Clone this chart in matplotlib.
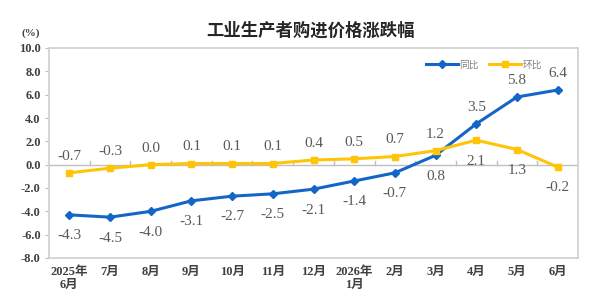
import matplotlib.pyplot as plt

months = ['2025年\n6月', '7月', '8月', '9月', '10月', '11月', '12月',
          '2026年\n1月', '2月', '3月', '4月', '5月', '6月']
yoy = [-4.3, -4.5, -4.0, -3.1, -2.7, -2.5, -2.1, -1.4, -0.7, 0.8, 3.5, 5.8, 6.4]
mom = [-0.7, -0.3, 0.0, 0.1, 0.1, 0.1, 0.4, 0.5, 0.7, 1.2, 2.1, 1.3, -0.2]
# label placement: 1 = above the point, -1 = below
yoy_pos = [-1, -1, -1, -1, -1, -1, -1, -1, -1, -1, 1, 1, 1]
mom_pos = [1, 1, 1, 1, 1, 1, 1, 1, 1, 1, -1, -1, -1]

blue = '#1466C6'
yellow = '#FFC407'
serif = ['Liberation Serif', 'Noto Sans CJK SC']

fig = plt.figure(figsize=(6, 3.08), dpi=100)
ax = fig.add_axes([49 / 600, 1 - 258 / 308, 529 / 600, 210 / 308])

x = list(range(len(months)))
ax.plot(x, yoy, color=blue, lw=2.2, marker='D', ms=4, label='同比', zorder=3)
ax.plot(x, mom, color=yellow, lw=2.2, marker='s', ms=5, label='环比', zorder=3)


def offset(p):
    return 12 if p > 0 else -15


for i in x:
    ax.annotate(f'{yoy[i]:.1f}', (i, yoy[i]), xytext=(0, offset(yoy_pos[i])),
                textcoords='offset points', ha='center', va='center',
                fontsize=11, color='#595959', family=serif)
    ax.annotate(f'{mom[i]:.1f}', (i, mom[i]), xytext=(0, offset(mom_pos[i])),
                textcoords='offset points', ha='center', va='center',
                fontsize=11, color='#595959', family=serif)

ax.set_xlim(-0.5, len(months) - 0.5)
ax.set_ylim(-8, 10)
ax.set_yticks(range(-8, 11, 2))
ax.set_yticklabels([f'{v:.1f}' for v in range(-8, 11, 2)], family=serif,
                   fontweight='bold', fontsize=9, color='#404040')
ax.set_xticks(x)
ax.set_xticklabels(months, family=serif, fontweight='bold', fontsize=9,
                   color='#404040', linespacing=1.1)
ax.tick_params(axis='x', length=0, pad=6)
ax.tick_params(axis='y', length=3, color='#bfbfbf', pad=3)

# zero axis line with category ticks
ax.axhline(0, color='#bfbfbf', lw=1, zorder=1)
for b in range(1, len(months)):
    ax.plot([b - 0.5, b - 0.5], [0, 0.35], color='#bfbfbf', lw=1, zorder=1)

for s in ax.spines.values():
    s.set_color('#d0d0d0')
    s.set_linewidth(1.2)

leg = ax.legend(loc='center right', bbox_to_anchor=(0.94, 0.92), ncol=2,
                frameon=False, prop={'family': 'Noto Sans CJK SC', 'size': 7},
                handlelength=3.3, columnspacing=1.0, handletextpad=0.2,
                borderaxespad=0)
for t in leg.get_texts():
    t.set_color('#7f7f7f')

fig.text(310 / 600, 1 - 31 / 308, '工业生产者购进价格涨跌幅', ha='center', va='center',
         fontsize=12.5, fontweight='bold', family='Noto Sans CJK SC', color='#262626')
fig.text(31 / 600, 1 - 33 / 308, '(%)', ha='center', va='center',
         fontsize=8, fontweight='bold', family='Liberation Serif', color='#404040')

fig.savefig('out.png', dpi=100)
